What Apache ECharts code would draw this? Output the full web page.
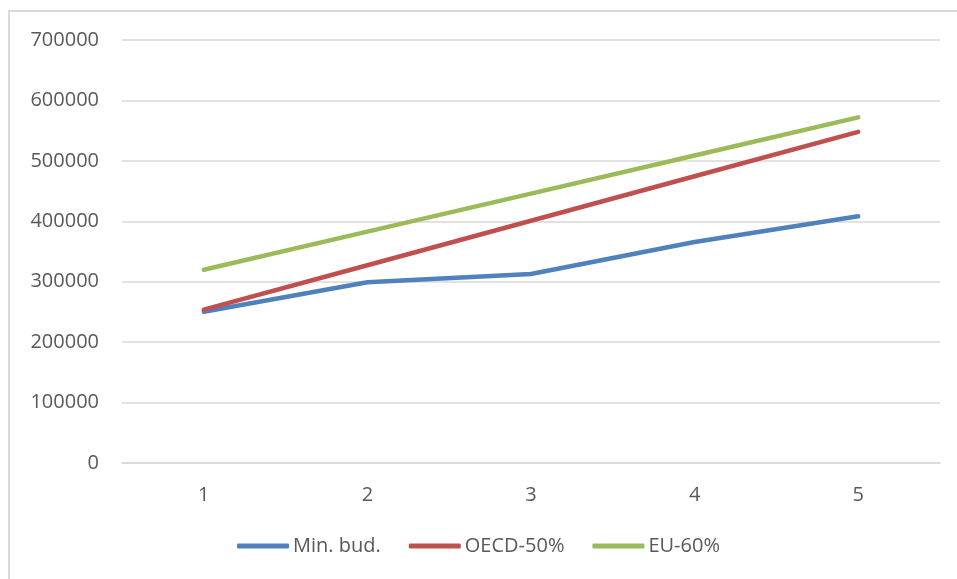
<!DOCTYPE html>
<html>
<head>
<meta charset="utf-8">
<script src="https://cdn.jsdelivr.net/npm/echarts@6/dist/echarts.min.js"></script>
<style>
html,body{margin:0;padding:0;background:#fff;overflow:hidden;}
#frame{position:absolute;left:8px;top:10px;width:1200px;height:1000px;border-left:2px solid #d9d9d9;border-top:2px solid #d9d9d9;}
#chart{position:absolute;left:0;top:0;width:957px;height:579px;}
</style>
</head>
<body>
<div id="frame"></div>
<div id="chart"></div>
<script>
const categories = ['1', '2', '3', '4', '5'];
const minBud = [250400, 299000, 312700, 365600, 408300];
const oecd50 = [253700, 327300, 400900, 474500, 548000];
const eu60 = [319800, 382800, 445800, 508900, 571900];
const yTicks = [0, 100000, 200000, 300000, 400000, 500000, 600000, 700000];

const font = 'Open Sans';
const textColor = '#595959';
const chart = echarts.init(document.getElementById('chart'), null, {renderer: 'canvas'});
function line(name, data, color) {
  return {
    name: name, type: 'line', data: data, symbol: 'none', smooth: false,
    lineStyle: {width: 4.5, color: color, cap: 'round', join: 'round'},
    itemStyle: {color: color},
    animation: false
  };
}
chart.setOption({
  animation: false,
  backgroundColor: 'transparent',
  grid: {left: 122, right: 17, top: 40, bottom: 116, containLabel: false},
  xAxis: {
    type: 'category', data: categories, boundaryGap: true,
    axisLine: {show: true, lineStyle: {color: '#d9d9d9', width: 1.5}},
    axisTick: {show: false},
    axisLabel: {color: textColor, fontFamily: font, fontSize: 20, margin: 22}
  },
  yAxis: {
    type: 'value', min: yTicks[0], max: yTicks[yTicks.length - 1], interval: yTicks[1] - yTicks[0],
    axisLine: {show: false}, axisTick: {show: false},
    splitLine: {lineStyle: {color: '#d9d9d9', width: 1.5}},
    axisLabel: {color: textColor, fontFamily: font, fontSize: 20, margin: 23,
      formatter: function (v) { return String(v); }}
  },
  legend: {
    bottom: 18, left: 'center',
    itemWidth: 52, itemHeight: 5, itemGap: 28,
    icon: 'roundRect',
    textStyle: {color: textColor, fontFamily: font, fontSize: 20, padding: [0, 0, 0, -1]},
    data: ['Min. bud.', 'OECD-50%', 'EU-60%']
  },
  series: [
    line('Min. bud.', minBud, '#4f81bd'),
    line('OECD-50%', oecd50, '#c0504d'),
    line('EU-60%', eu60, '#9bbb59')
  ]
});
</script>
</body>
</html>
